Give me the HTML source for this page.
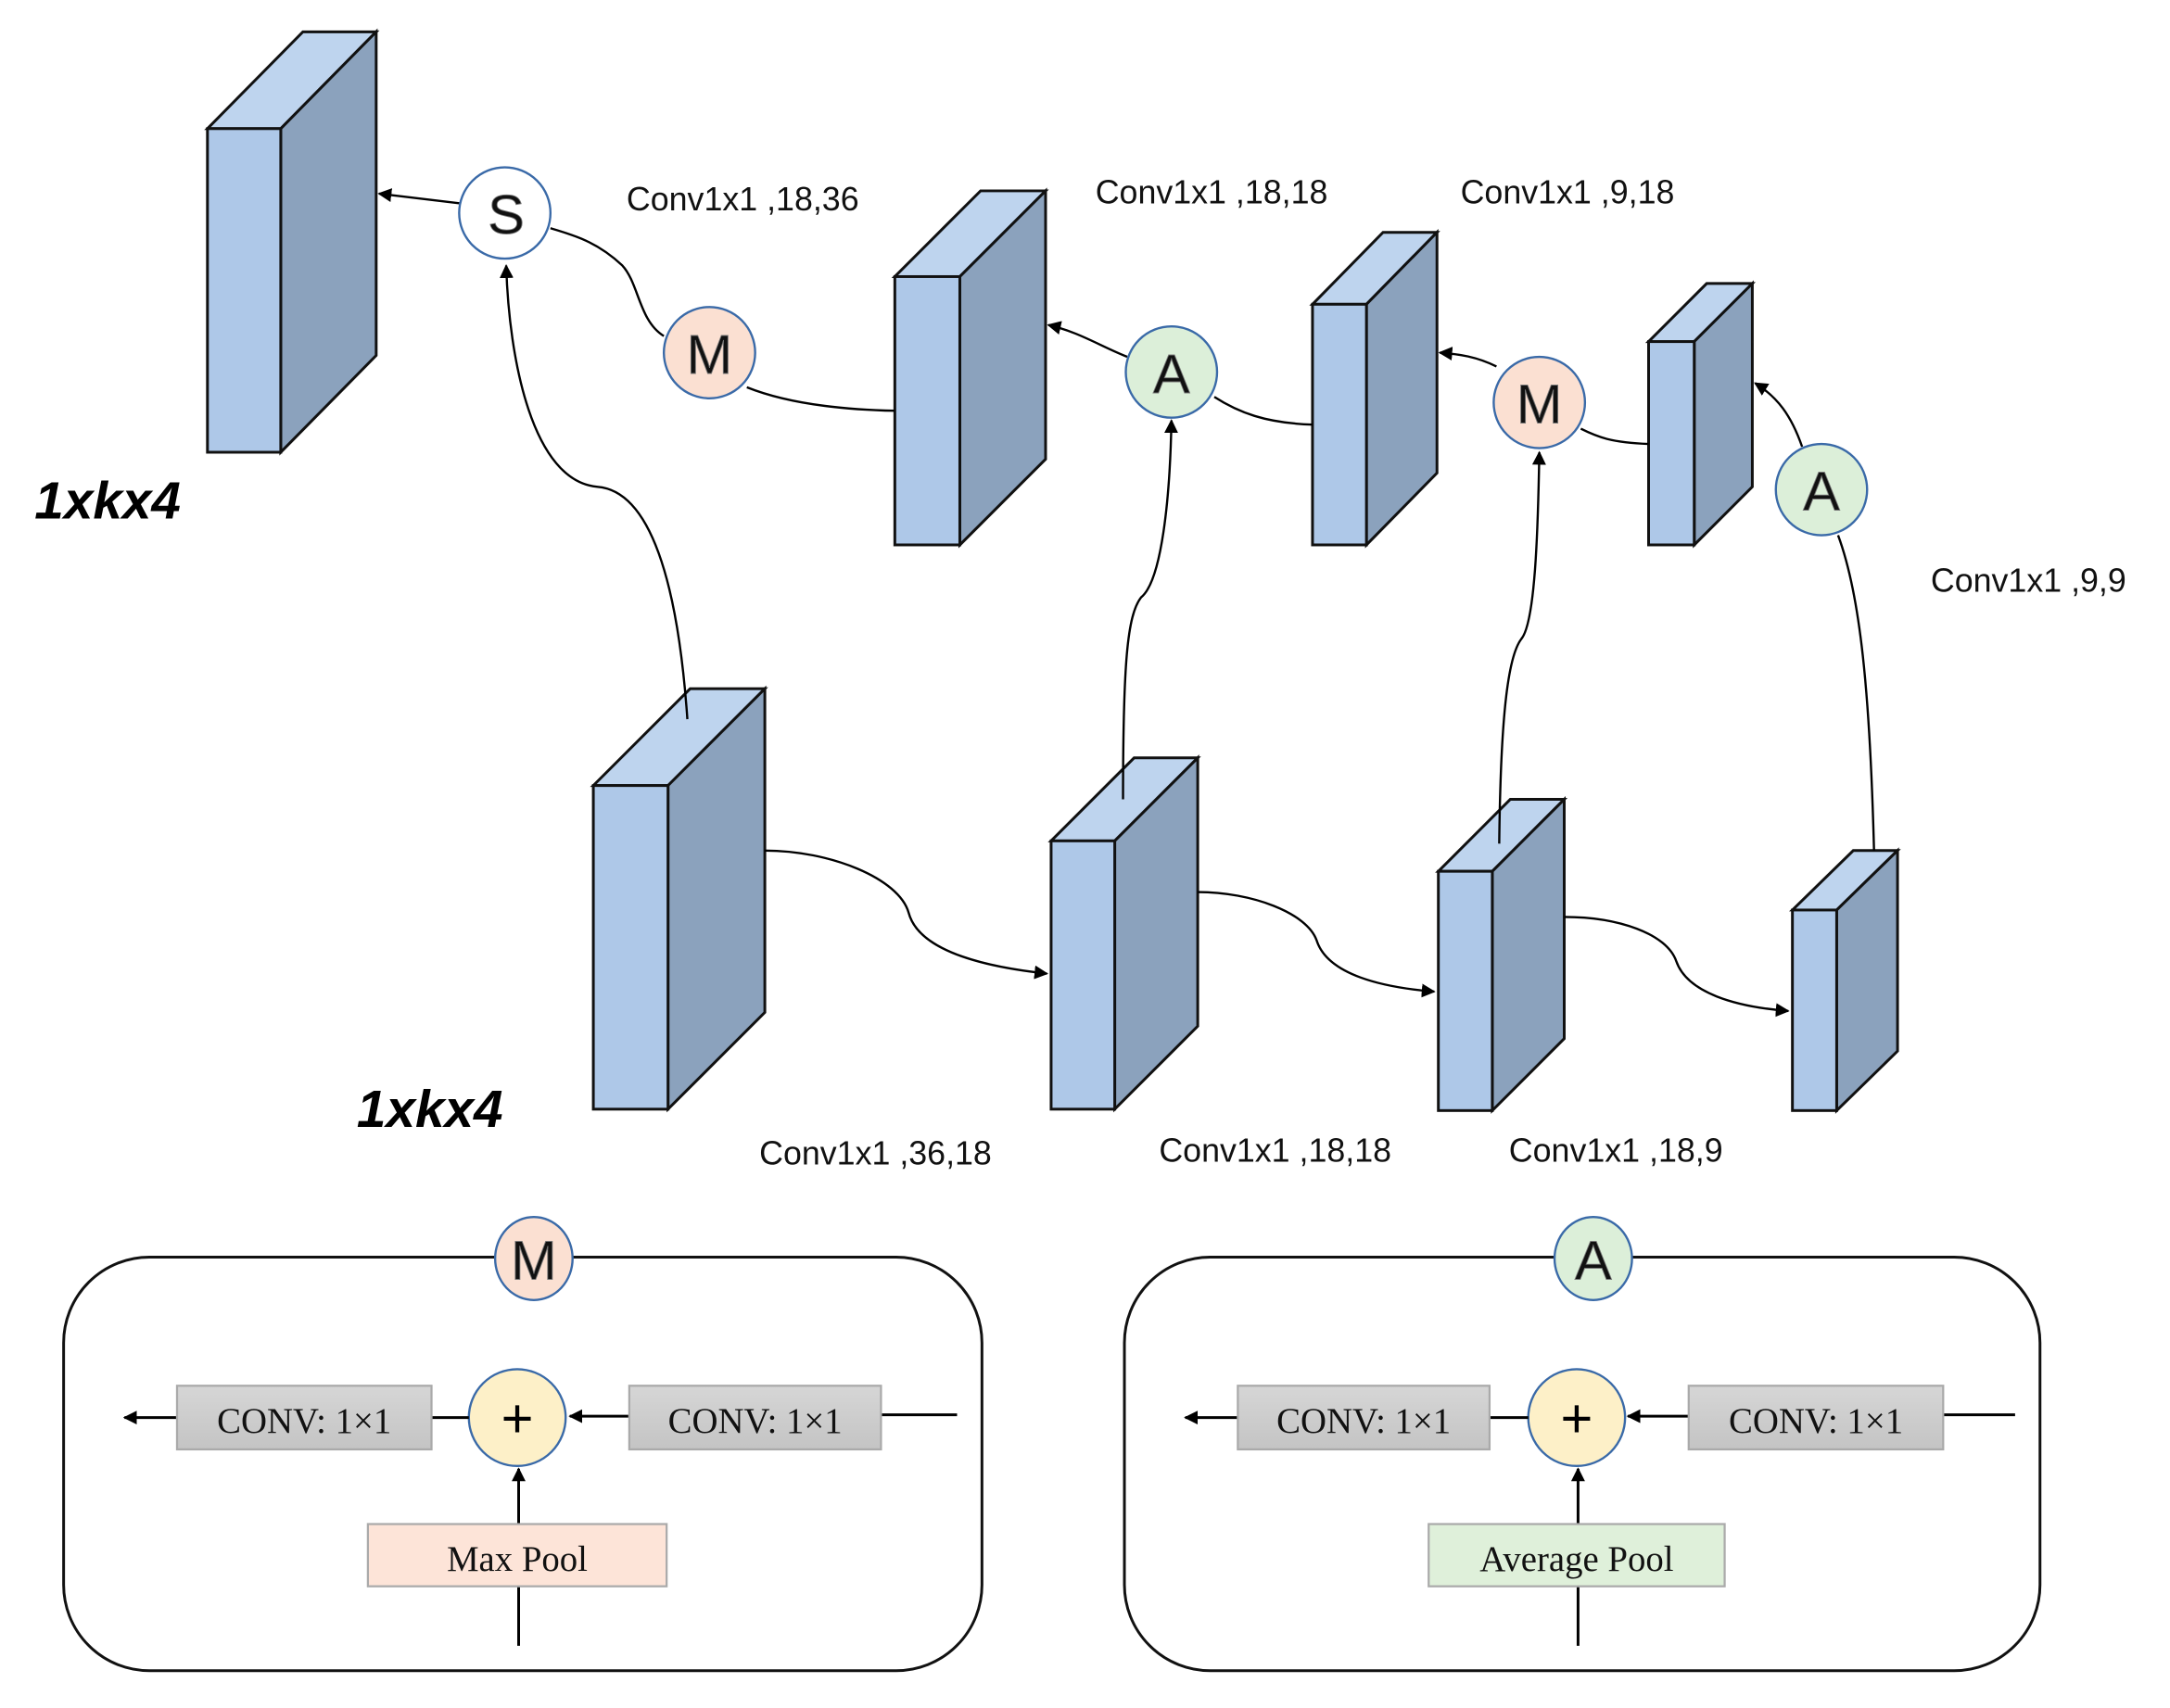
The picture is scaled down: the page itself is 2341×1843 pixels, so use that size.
<!DOCTYPE html>
<html><head><meta charset="utf-8"><style>
html,body{margin:0;padding:0;background:#fff;}
svg{display:block;}
.t{font-family:"Liberation Sans",sans-serif;font-size:24px;fill:#111;}
.s{font-family:"Liberation Serif",serif;font-size:26px;fill:#111;}
.big{font-family:"Liberation Sans",sans-serif;font-size:38px;font-style:italic;font-weight:bold;fill:#000;}
.cl{font-family:"Liberation Sans",sans-serif;font-size:40px;fill:#111;stroke:#777;stroke-width:0.6;}
</style></head><body>
<svg width="2341" height="1843" viewBox="0 0 1569 1235" preserveAspectRatio="none" xmlns="http://www.w3.org/2000/svg">
<defs>
<marker id="ar" markerWidth="10" markerHeight="10" refX="9" refY="5" orient="auto" markerUnits="userSpaceOnUse"><path d="M0,0 L10,5 L0,10 z" fill="#000"/></marker>
<linearGradient id="gg" x1="0" y1="0" x2="0" y2="1"><stop offset="0" stop-color="#d6d6d6"/><stop offset="1" stop-color="#c4c4c4"/></linearGradient>
</defs>
<g stroke="#111" stroke-width="2" stroke-linejoin="miter">
<polygon points="150,93 219,23 272,23 203,93" fill="#bed4ee"/><polygon points="203,93 272,23 272,257 203,327" fill="#8ba2bd"/><rect x="150" y="93" width="53" height="234" fill="#aec8e8"/>
<polygon points="647,200 709,138 756,138 694,200" fill="#bed4ee"/><polygon points="694,200 756,138 756,332 694,394" fill="#8ba2bd"/><rect x="647" y="200" width="47" height="194" fill="#aec8e8"/>
<polygon points="949,220 1000,168 1039,168 988,220" fill="#bed4ee"/><polygon points="988,220 1039,168 1039,342 988,394" fill="#8ba2bd"/><rect x="949" y="220" width="39" height="174" fill="#aec8e8"/>
<polygon points="1192,247 1234,205 1267,205 1225,247" fill="#bed4ee"/><polygon points="1225,247 1267,205 1267,352 1225,394" fill="#8ba2bd"/><rect x="1192" y="247" width="33" height="147" fill="#aec8e8"/>
<polygon points="429,568 499,498 553,498 483,568" fill="#bed4ee"/><polygon points="483,568 553,498 553,732 483,802" fill="#8ba2bd"/><rect x="429" y="568" width="54" height="234" fill="#aec8e8"/>
<polygon points="760,608 820,548 866,548 806,608" fill="#bed4ee"/><polygon points="806,608 866,548 866,742 806,802" fill="#8ba2bd"/><rect x="760" y="608" width="46" height="194" fill="#aec8e8"/>
<polygon points="1040,630 1092,578 1131,578 1079,630" fill="#bed4ee"/><polygon points="1079,630 1131,578 1131,751 1079,803" fill="#8ba2bd"/><rect x="1040" y="630" width="39" height="173" fill="#aec8e8"/>
<polygon points="1296,658 1340,615 1372,615 1328,658" fill="#bed4ee"/><polygon points="1328,658 1372,615 1372,760 1328,803" fill="#8ba2bd"/><rect x="1296" y="658" width="32" height="145" fill="#aec8e8"/>
</g>
<g fill="none" stroke="#000" stroke-width="1.6">
<path d="M332,147 L274,140" marker-end="url(#ar)"/>
<path d="M480,243 C462,232 462,205 450,192 C432,175 415,170 398,165"/>
<path d="M647,297 C600,296 565,290 540,280"/>
<path d="M497,520 C490,420 470,355 432,352 C385,348 368,260 366,192" marker-end="url(#ar)"/>
<path d="M815,258 C795,250 780,240 758,235" marker-end="url(#ar)"/>
<path d="M949,307 C915,306 895,298 878,287"/>
<path d="M812,578 C812,480 815,445 825,432 C840,420 846,360 847,304" marker-end="url(#ar)"/>
<path d="M1082,265 C1068,258 1055,256 1041,255" marker-end="url(#ar)"/>
<path d="M1192,321 C1165,320 1155,316 1143,310"/>
<path d="M1084,610 C1085,520 1090,475 1100,462 C1110,450 1112,385 1113,327" marker-end="url(#ar)"/>
<path d="M1303,323 C1295,300 1285,287 1269,277" marker-end="url(#ar)"/>
<path d="M1355,615 C1352,500 1345,430 1329,387"/>
<path d="M553,615 C600,615 650,635 657,660 C665,690 720,700 757,704" marker-end="url(#ar)"/>
<path d="M866,645 C905,645 945,660 952,680 C960,705 1000,714 1037,717" marker-end="url(#ar)"/>
<path d="M1131,663 C1170,663 1205,675 1212,695 C1220,718 1255,728 1293,731" marker-end="url(#ar)"/>
</g>
<g stroke="#3a6aa8" stroke-width="1.6">
<circle cx="365" cy="154" r="33" fill="#fff"/>
<circle cx="513" cy="255" r="33" fill="#fbe0d2"/>
<circle cx="847" cy="269" r="33" fill="#dcefd9"/>
<circle cx="1113" cy="291" r="33" fill="#fbe0d2"/>
<circle cx="1317" cy="354" r="33" fill="#dcefd9"/>
</g>
<g class="cl" text-anchor="middle">
<text x="366" y="169">S</text><text x="513" y="270">M</text><text x="847" y="284">A</text><text x="1113" y="306">M</text><text x="1317" y="369">A</text>
</g>
<g class="t">
<text x="453" y="152">Conv1x1 ,18,36</text>
<text x="792" y="147">Conv1x1 ,18,18</text>
<text x="1056" y="147">Conv1x1 ,9,18</text>
<text x="1396" y="428">Conv1x1 ,9,9</text>
<text x="549" y="842">Conv1x1 ,36,18</text>
<text x="838" y="840">Conv1x1 ,18,18</text>
<text x="1091" y="840">Conv1x1 ,18,9</text>
</g>
<text class="big" x="25" y="375">1xkx4</text>
<text class="big" x="258" y="815">1xkx4</text>
<g fill="none" stroke="#111" stroke-width="2">
<rect x="46" y="909" width="664" height="299" rx="62"/>
<rect x="813" y="909" width="662" height="299" rx="62"/>
</g>
<g stroke="#3a6aa8" stroke-width="1.6">
<ellipse cx="386" cy="910" rx="28" ry="30" fill="#fbe0d2"/>
<ellipse cx="1152" cy="910" rx="28" ry="30" fill="#dcefd9"/>
<circle cx="374" cy="1025" r="35" fill="#fdf0c8"/>
<circle cx="1140" cy="1025" r="35" fill="#fdf0c8"/>
</g>
<g class="cl" text-anchor="middle"><text x="386" y="925">M</text><text x="1152" y="925">A</text></g>
<g fill="none" stroke="#000" stroke-width="2">
<path d="M128,1025 L90,1025" marker-end="url(#ar)"/><path d="M312,1025 L339,1025"/>
<path d="M455,1024 L412,1024" marker-end="url(#ar)"/><path d="M637,1023 L692,1023"/>
<path d="M375,1190 L375,1147"/><path d="M375,1102 L375,1062" marker-end="url(#ar)"/>
<path d="M895,1025 L857,1025" marker-end="url(#ar)"/><path d="M1077,1025 L1105,1025"/>
<path d="M1221,1024 L1177,1024" marker-end="url(#ar)"/><path d="M1405,1023 L1457,1023"/>
<path d="M1141,1190 L1141,1147"/><path d="M1141,1102 L1141,1062" marker-end="url(#ar)"/>
</g>
<g stroke="#aaa" stroke-width="1.5">
<rect x="128" y="1002" width="184" height="46" fill="url(#gg)"/>
<rect x="455" y="1002" width="182" height="46" fill="url(#gg)"/>
<rect x="895" y="1002" width="182" height="46" fill="url(#gg)"/>
<rect x="1221" y="1002" width="184" height="46" fill="url(#gg)"/>
<rect x="266" y="1102" width="216" height="45" fill="#fde4d8"/>
<rect x="1033" y="1102" width="214" height="45" fill="#dff0da"/>
</g>
<g class="s" text-anchor="middle">
<text x="220" y="1036">CONV: 1×1</text><text x="546" y="1036">CONV: 1×1</text>
<text x="986" y="1036">CONV: 1×1</text><text x="1313" y="1036">CONV: 1×1</text>
<text x="374" y="1136">Max Pool</text><text x="1140" y="1136">Average Pool</text>
</g>
<g font-family="Liberation Sans,sans-serif" font-size="40" text-anchor="middle" fill="#000"><text x="374" y="1039">+</text><text x="1140" y="1039">+</text></g>
</svg>
</body></html>
